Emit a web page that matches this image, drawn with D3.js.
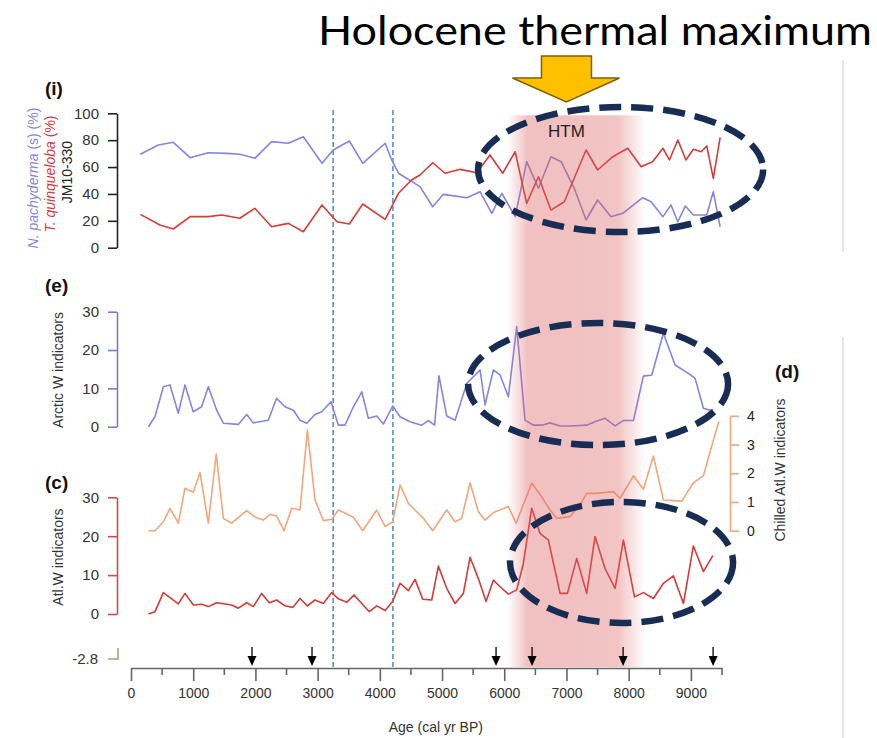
<!DOCTYPE html>
<html>
<head>
<meta charset="utf-8">
<script src="https://cdn.jsdelivr.net/npm/d3@7"></script>
<style>
body { margin: 0; background: #fff; }
svg { display: block; font-family: "Liberation Sans", Arial, sans-serif; }
</style>
</head>
<body>
<svg id="svg_main" width="877" height="738"></svg>
<script>
// (i) JM10-330 planktic foraminifera
var ageN = [150, 440, 680, 950, 1240, 1540, 1750, 1990, 2260, 2530, 2770, 3070, 3250, 3510, 3725, 4085, 4190, 4300, 4645, 4850, 5020, 5400, 5610, 5800, 5960, 6175, 6360, 6550, 6750, 6915, 7125, 7315, 7500, 7715, 7905, 8225, 8360, 8550, 8680, 8790, 8910, 9040, 9255, 9360, 9470];
var pachy = [69.5, 76.4, 78.4, 67, 70.7, 70.2, 69.5, 66.5, 78.9, 77.7, 82.6, 62.8, 72.7, 79.4, 62.8, 77.7, 65.3, 55.4, 45.4, 30.5, 39.7, 37.2, 41.7, 25.6, 40.5, 23.1, 64, 44.2, 67.7, 64, 44.2, 20.6, 35.5, 23.1, 25.6, 37.2, 34.2, 23.1, 31.8, 19.3, 31, 24.3, 24.3, 41.7, 15.6];
var ageT = [150, 465, 680, 950, 1240, 1460, 1750, 1990, 2260, 2530, 2770, 3070, 3310, 3510, 3725, 4085, 4300, 4510, 4645, 4850, 5048, 5290, 5560, 5770, 5975, 6175, 6360, 6550, 6750, 6965, 7315, 7500, 7745, 7985, 8200, 8385, 8550, 8655, 8790, 8920, 9040, 9165, 9255, 9360, 9470];
var quinq = [24.8, 16.9, 13.9, 23.1, 23.1, 24.3, 21.9, 29.3, 15.6, 18.1, 11.9, 31.8, 19.3, 17.6, 32.5, 21.1, 40.5, 50.4, 54.1, 63.2, 55.4, 58.3, 55.8, 69, 55.4, 71.4, 33, 52.8, 28, 34.2, 72.7, 57.8, 67.7, 74, 60.3, 64, 74, 65.3, 80.1, 65.3, 73.2, 71.4, 75.7, 51.6, 82.1];

// (e) Arctic W indicators
var ageE = [280, 385, 520, 627, 760, 868, 1000, 1135, 1243, 1377, 1485, 1725, 1860, 1965, 2207, 2340, 2475, 2610, 2717, 2825, 2958, 3065, 3215, 3333, 3440, 3575, 3710, 3815, 3950, 4057, 4207, 4325, 4485, 4673, 4780, 4880, 4950, 5075, 5210, 5397, 5611, 5691, 5825, 5932, 6066, 6200, 6334, 6468, 6602, 6736, 6897, 7057, 7325, 7459, 7620, 7781, 7915, 8076, 8236, 8371, 8558, 8746, 8960, 9068, 9201, 9309, 9360];
var arctic = [0, 2.6, 10.4, 10.9, 3.5, 10.9, 3.9, 5.2, 10.4, 4.3, 0.9, 0.6, 3.2, 1, 1.7, 7.4, 5.2, 4.3, 1.7, 0.9, 3.2, 3.9, 6.5, 0.4, 0.4, 5.2, 9.1, 2.2, 2.8, 0.7, 5.4, 2.6, 1.3, 0.4, 1.6, 0.4, 13.3, 2.8, 1.7, 11.3, 14.8, 5.7, 14.8, 13.5, 7.8, 26.1, 1.7, 0.4, 0.4, 1, 0.2, 0.2, 0.4, 1.3, 2.2, 0.2, 1.6, 1.6, 13.2, 13.5, 24.4, 16.1, 13.9, 12.6, 4.8, 4.3, 4.5];

// (d) Chilled Atl.W indicators
var ageD = [279, 386, 520, 627, 761, 868, 1002, 1109, 1243, 1370, 1484, 1618, 1859, 1993, 2127, 2234, 2341, 2459, 2583, 2717, 2835, 2958, 3092, 3226, 3333, 3575, 3725, 3950, 4085, 4207, 4325, 4459, 4700, 4850, 5075, 5209, 5316, 5450, 5584, 5691, 5825, 6066, 6190, 6441, 6602, 6736, 6843, 7057, 7218, 7325, 7486, 7754, 7861, 8076, 8236, 8397, 8558, 8853, 9040, 9201, 9362, 9450];
var chilled = [0, 0, 0.31, 0.78, 0.26, 1.48, 1.34, 2.03, 0.26, 2.67, 0.43, 0.26, 0.7, 0.47, 0.37, 0.57, 0.51, 0, 0.78, 0.72, 3.5, 1.07, 0.35, 0.4, 0.72, 0.47, 0, 0.72, 0.14, 0.31, 1.59, 0.95, 0.43, 0, 0.72, 0.31, 0.43, 1.67, 0.66, 0.37, 0.63, 0.84, 0.26, 1.65, 1.18, 0.72, 0.43, 0.49, 0.9, 1.3, 1.3, 1.36, 1.13, 1.91, 1.44, 2.6, 1.07, 1.03, 1.67, 1.91, 3.16, 3.8];

// (c) Atl.W indicators
var ageC = [279, 386, 520, 761, 868, 1002, 1136, 1243, 1377, 1618, 1725, 1859, 1966, 2100, 2223, 2341, 2476, 2599, 2717, 2835, 2958, 3092, 3226, 3333, 3468, 3585, 3831, 3950, 4085, 4207, 4325, 4459, 4566, 4689, 4834, 4941, 5075, 5209, 5343, 5450, 5584, 5707, 5825, 5932, 6066, 6200, 6307, 6441, 6575, 6709, 6897, 7015, 7165, 7325, 7459, 7620, 7781, 7915, 8093, 8236, 8397, 8558, 8719, 8880, 9040, 9201, 9352];
var atlw = [0, 0.6, 5.5, 2.6, 5.3, 2.3, 2.5, 1.9, 2.9, 2.3, 1.5, 2.9, 1.9, 5.3, 2.9, 3.6, 2.1, 1.7, 4, 2.1, 3.6, 2.7, 5.5, 3.9, 3, 4.9, 0.6, 2.1, 0.9, 3.3, 7.9, 6, 8.9, 3.8, 3.6, 12.3, 6.6, 2.7, 5.3, 14.6, 9.1, 3.2, 8.7, 7, 5.1, 6.2, 13, 27.2, 20.7, 19, 5.3, 5.3, 14.3, 5.3, 19.9, 11.7, 6.6, 19, 4.4, 5.5, 4, 7.9, 9.8, 2.7, 17.5, 10.9, 15];

// dating points, transition lines, HTM interval
var dates = [1945, 2910, 5868, 6447, 7910, 9357];
var transitions = [3250, 4210];
var htm = [6050, 8270];
var xTicks = [0, 1000, 2000, 3000, 4000, 5000, 6000, 7000, 8000, 9000];
var xMinor = [500, 1500, 2500, 3500, 4500, 5500, 6500, 7500, 8500, 9500];

var col = { blue: "#8585e0", red: "#d83a3a", orange: "#f3a67c", axBlue: "#7a78d4", axRed: "#d84848" };

var svg = d3.select("#svg_main");
var x = d3.scaleLinear().domain([0, 9500]).range([131, 722]);
var yI = d3.scaleLinear().domain([0, 100]).range([247.7, 113.3]);
var yE = d3.scaleLinear().domain([0, 30]).range([426.7, 311.7]);
var yD = d3.scaleLinear().domain([0, 4]).range([530.7, 415.8]);
var yC = d3.scaleLinear().domain([0, 30]).range([614, 497.3]);

function series(ages, vals, y, color) {
	var line = d3.line().x(d => x(d[0])).y(d => y(d[1]));
	svg.append("path")
		.datum(d3.zip(ages, vals))
		.attr("d", line)
		.attr("fill", "none")
		.attr("stroke", color)
		.attr("stroke-width", 1.6)
		.attr("stroke-linejoin", "round");
}

function leftAxis(y, ticks, color, tx) {
	var g = svg.append("g")
		.attr("transform", `translate(${tx}, 0)`)
		.call(d3.axisLeft(y).tickValues(ticks).tickSize(9).tickSizeOuter(0).tickPadding(9));
	g.select(".domain").attr("stroke", color).attr("stroke-width", 1.6);
	g.selectAll(".tick line").attr("stroke", color).attr("stroke-width", 1.6);
	g.selectAll(".tick text").attr("fill", "#333").attr("font-size", "15px");
	return g;
}

// right slide border
svg.append("line").attr("x1", 843).attr("x2", 843).attr("y1", 60).attr("y2", 252).attr("stroke", "#ccc");
svg.append("line").attr("x1", 843).attr("x2", 843).attr("y1", 337).attr("y2", 738).attr("stroke", "#ccc");

// transition lines
svg.selectAll(".trans")
	.data(transitions)
	.enter().append("line")
	.attr("class", "trans")
	.attr("x1", d => x(d)).attr("x2", d => x(d))
	.attr("y1", 110).attr("y2", 667)
	.attr("stroke", "#4f94d4")
	.attr("stroke-width", 1.6)
	.attr("stroke-dasharray", "5,3");

// series
series(ageN, pachy, yI, col.blue);
series(ageT, quinq, yI, col.red);
series(ageE, arctic, yE, col.blue);
series(ageD, chilled, yD, col.orange);
series(ageC, atlw, yC, col.red);

// HTM shading (on top, translucent)
var defs = svg.append("defs");
var grad = defs.append("linearGradient")
	.attr("id", "htmGrad")
	.attr("gradientUnits", "userSpaceOnUse")
	.attr("x1", x(htm[0])).attr("x2", x(htm[1]))
	.attr("y1", 0).attr("y2", 0);
[[0, 0], [0.15, 0.4], [0.8, 0.37], [1, 0]].forEach(s => {
	grad.append("stop").attr("offset", s[0]).attr("stop-color", "#dc6060").attr("stop-opacity", s[1]);
});
svg.append("rect")
	.attr("x", x(htm[0]))
	.attr("width", x(htm[1]) - x(htm[0]))
	.attr("y", yI(98.5))
	.attr("height", 667 - yI(98.5))
	.attr("fill", "url(#htmGrad)");
svg.append("text")
	.attr("x", x(7000)).attr("y", 137)
	.attr("text-anchor", "middle")
	.attr("font-size", "17px")
	.attr("fill", "#222")
	.text("HTM");

// axes
leftAxis(yI, [0, 20, 40, 60, 80, 100], "#222", 117);
leftAxis(yE, [0, 10, 20, 30], col.axBlue, 117);
leftAxis(yC, [0, 10, 20, 30], col.axRed, 117);

var gD = svg.append("g")
	.attr("transform", "translate(730, 0)")
	.call(d3.axisRight(yD).tickValues([0, 1, 2, 3, 4]).tickFormat(d3.format("d")).tickSize(9).tickSizeOuter(0).tickPadding(8));
gD.select(".domain").attr("stroke", col.orange).attr("stroke-width", 1.6);
gD.selectAll(".tick line").attr("stroke", col.orange).attr("stroke-width", 1.6);
gD.selectAll(".tick text").attr("fill", "#222").attr("font-size", "14px");

// -2.8 fragment
svg.append("path")
	.attr("d", "M118,648V659H108")
	.attr("fill", "none")
	.attr("stroke", "#8cb070")
	.attr("stroke-width", 1.6);
svg.append("text")
	.attr("x", 98).attr("y", 664)
	.attr("text-anchor", "end")
	.attr("font-size", "15px")
	.attr("fill", "#333")
	.text("-2.8");

// bottom axis
var gx = svg.append("g")
	.attr("transform", "translate(0, 668)")
	.call(d3.axisBottom(x).tickValues(xTicks).tickFormat(d3.format("d")).tickSize(13).tickSizeOuter(0).tickPadding(7));
gx.select(".domain").attr("stroke", "#666").attr("stroke-width", 1.6);
gx.selectAll(".tick line").attr("stroke", "#666").attr("stroke-width", 1.6);
gx.selectAll(".tick text").attr("fill", "#333").attr("font-size", "14px");
svg.append("g")
	.selectAll("line")
	.data(xMinor)
	.enter().append("line")
	.attr("x1", d => x(d)).attr("x2", d => x(d))
	.attr("y1", 668).attr("y2", 675)
	.attr("stroke", "#666")
	.attr("stroke-width", 1.6);
svg.append("text")
	.attr("x", x(4900)).attr("y", 732)
	.attr("text-anchor", "middle")
	.attr("font-size", "14px")
	.attr("fill", "#333")
	.text("Age (cal yr BP)");

// dating arrows
var arrows = svg.append("g").selectAll("g")
	.data(dates)
	.enter().append("g")
	.attr("transform", d => `translate(${x(d)}, 0)`);
arrows.append("line")
	.attr("y1", 647).attr("y2", 658)
	.attr("stroke", "#000").attr("stroke-width", 1.3);
arrows.append("path")
	.attr("d", "M-4.5,656L4.5,656L0,666Z")
	.attr("fill", "#000");

// panel labels
var plab = [["(i)", 45, 95], ["(e)", 45, 292], ["(c)", 45, 489], ["(d)", 775, 378]];
svg.selectAll(".plab")
	.data(plab)
	.enter().append("text")
	.attr("class", "plab")
	.attr("x", d => d[1]).attr("y", d => d[2])
	.attr("font-size", "19px")
	.attr("font-weight", "bold")
	.attr("fill", "#111")
	.text(d => d[0]);

// y labels
function ylab(tx, ty, parts, size) {
	var t = svg.append("text")
		.attr("transform", `translate(${tx}, ${ty}) rotate(-90)`)
		.attr("text-anchor", "middle")
		.attr("font-size", size);
	parts.forEach(p => {
		t.append("tspan").attr("fill", p[1]).attr("font-style", p[2] ? "italic" : "normal").text(p[0]);
	});
}
ylab(38, 178, [["N. pachyderma", col.blue, true], [" (s) (%)", col.blue]], "14px");
ylab(55, 174, [["T. quinqueloba", col.red, true], [" (%)", col.red]], "14px");
ylab(72, 172, [["JM10-330", "#222"]], "14px");
ylab(63, 370, [["Arctic W indicators", "#333"]], "14px");
ylab(63, 557, [["Atl.W indicators", "#333"]], "14px");
ylab(785, 470, [["Chilled Atl.W indicators", "#333"]], "14px");

// ellipses (age / value bounds)
var ellipses = [
	{ x0: 5579, x1: 10161, y: yI, v0: 104.7, v1: 11.7 },
	{ x0: 5418, x1: 9598, y: yE, v0: 27.05, v1: -4.8 },
	{ x0: 6093, x1: 9678, y: yC, v0: 28.8, v1: -2.3 }
];
svg.selectAll(".ell")
	.data(ellipses)
	.enter().append("ellipse")
	.attr("class", "ell")
	.attr("cx", d => (x(d.x0) + x(d.x1)) / 2)
	.attr("cy", d => (d.y(d.v0) + d.y(d.v1)) / 2)
	.attr("rx", d => (x(d.x1) - x(d.x0)) / 2)
	.attr("ry", d => (d.y(d.v1) - d.y(d.v0)) / 2)
	.attr("fill", "none")
	.attr("stroke", "#182d54")
	.attr("stroke-width", 6.5)
	.attr("stroke-dasharray", "22,10");

// title + arrow
svg.append("text")
	.attr("x", 318).attr("y", 45)
	.attr("font-family", "Lato, 'Open Sans', sans-serif")
	.attr("font-size", "40px")
	.attr("fill", "#000")
	.attr("textLength", 554)
	.attr("lengthAdjust", "spacingAndGlyphs")
	.text("Holocene thermal maximum");
var ax = x(7000);
svg.append("path")
	.attr("d", `M${ax - 25},56H${ax + 25}V78H${ax + 53}L${ax},102L${ax - 54},78H${ax - 25}Z`)
	.attr("fill", "#ffc000")
	.attr("stroke", "#806000")
	.attr("stroke-width", 1.5);
</script>
</body>
</html>
